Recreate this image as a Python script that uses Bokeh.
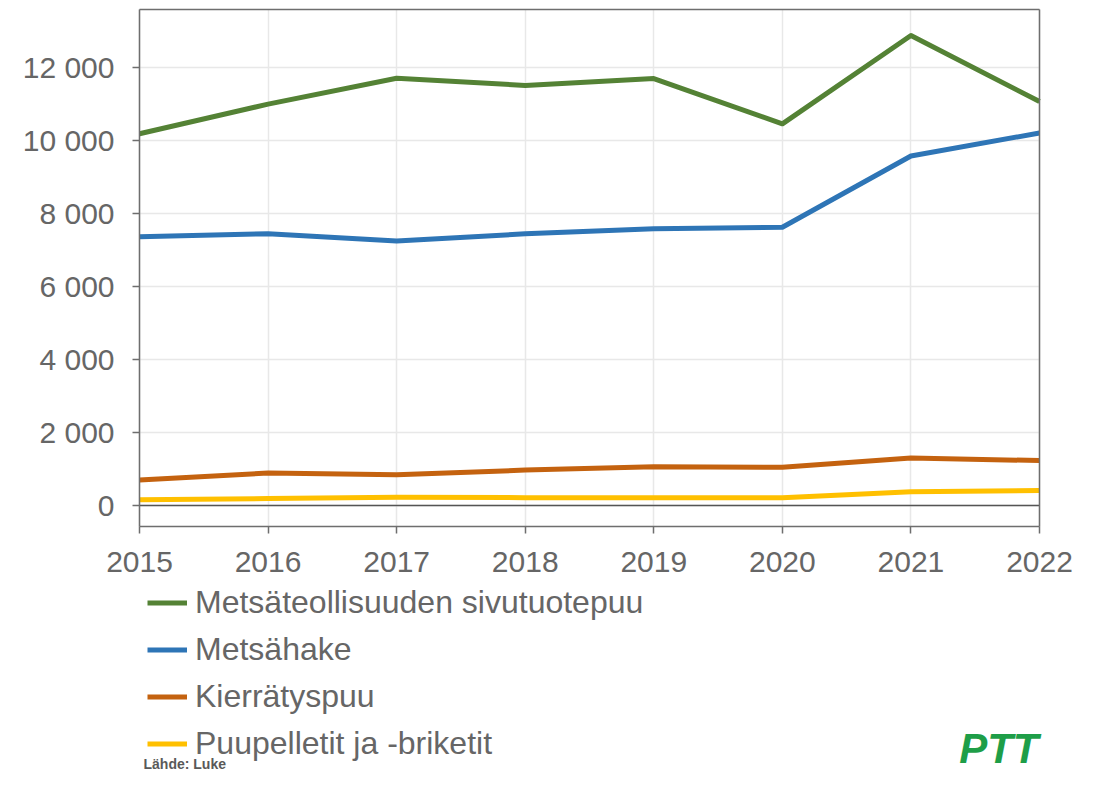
from bokeh.plotting import figure
from bokeh.models import (Range1d, FixedTicker, Grid, Legend, LegendItem, Label, LinearAxis)
from bokeh.embed import file_html
from bokeh.resources import INLINE

years = [2015, 2016, 2017, 2018, 2019, 2020, 2021, 2022]
metsateollisuus = [10180, 10990, 11700, 11500, 11690, 10450, 12870, 11060]
metsahake = [7360, 7440, 7240, 7440, 7580, 7620, 9570, 10200]
kierratyspuu = [700, 890, 840, 970, 1060, 1045, 1300, 1230]
puupelletit = [155, 190, 225, 215, 210, 210, 380, 410]

series_names = ["Metsäteollisuuden sivutuotepuu", "Metsähake", "Kierrätyspuu",
                "Puupelletit ja -briketit"]
series_colors = ["#548235", "#2e75b6", "#c4620f", "#ffc000"]

y_ticks = [0, 2000, 4000, 6000, 8000, 10000, 12000]
y_tick_labels = ["0", "2 000", "4 000", "6 000", "8 000", "10 000", "12 000"]

source_text = "Lähde: Luke"
logo_text = "PTT"

FONT = "Liberation Sans"
GRAY = "#666666"
AX = "#6e6e6e"
GRID = "#e8e8e8"
W, H = 1083, 772

# chart box (value axes) inside a larger frame that also holds labels and legend
X_MIN, X_MAX = 2015, 2022
Y_BOX_MIN, Y_MAX = -575, 13580
X_FRAME = (2013.9967, 2022.3033)
Y_FRAME = (-7310, 13772)

p = figure(width=W, height=H, output_backend="svg", toolbar_location=None,
           x_range=Range1d(*X_FRAME), y_range=Range1d(*Y_FRAME),
           min_border_left=10, min_border_right=5, min_border_top=2,
           min_border_bottom=0)

p.outline_line_color = None
p.background_fill_color = "white"
p.border_fill_color = "white"

has_cb = "cross_bounds" in p.xgrid[0].properties()

xg, yg = p.xgrid[0], p.ygrid[0]
xg.ticker = FixedTicker(ticks=years)
yg.ticker = FixedTicker(ticks=y_ticks)
if has_cb:
    xg.cross_bounds = (Y_BOX_MIN, Y_MAX)
    yg.cross_bounds = (X_MIN, X_MAX)
    for g in (xg, yg):
        g.grid_line_color = GRID
        g.grid_line_width = 1.5
    p.add_layout(Grid(dimension=1, ticker=FixedTicker(ticks=[0]), cross_bounds=(X_MIN, X_MAX),
                      grid_line_color="#555555", grid_line_width=1.5))
else:
    xg.visible = False
    yg.visible = False
    p.segment(x0=years, x1=years, y0=Y_BOX_MIN, y1=Y_MAX, line_color=GRID, line_width=1.5)
    p.segment(x0=X_MIN, x1=X_MAX, y0=y_ticks, y1=y_ticks, line_color=GRID, line_width=1.5)
    p.segment(x0=X_MIN, x1=X_MAX, y0=0, y1=0, line_color="#555555", line_width=1.5)

p.xaxis.ticker = FixedTicker(ticks=years)
p.yaxis.ticker = FixedTicker(ticks=y_ticks)
p.yaxis.major_label_overrides = {t: l for t, l in zip(y_ticks, y_tick_labels)}
p.xaxis.major_label_overrides = {y: str(y) for y in years}
p.xaxis.fixed_location = Y_BOX_MIN
p.yaxis.fixed_location = X_MIN
p.xaxis.bounds = (X_MIN, X_MAX)
p.yaxis.bounds = (Y_BOX_MIN, Y_MAX)

for ax in (p.xaxis[0], p.yaxis[0]):
    ax.axis_line_color = AX
    ax.axis_line_width = 1.5
    ax.major_tick_line_color = AX
    ax.major_tick_line_width = 1.5
    ax.major_tick_in = 0
    ax.major_tick_out = 7
    ax.minor_tick_line_color = None
    ax.major_label_text_font = FONT
    ax.major_label_text_font_size = "30px"
    ax.major_label_text_color = GRAY
p.yaxis.major_label_standoff = 18
p.xaxis.major_label_standoff = 18

# top and right edges of the chart box
for loc, bnds, fl in (("above", (X_MIN, X_MAX), Y_MAX), ("right", (Y_BOX_MIN, Y_MAX), X_MAX)):
    a = LinearAxis(ticker=FixedTicker(ticks=[]), bounds=bnds, fixed_location=fl,
                   axis_line_color=AX, axis_line_width=1.5, major_tick_line_color=None,
                   minor_tick_line_color=None, major_label_text_font_size="0px")
    p.add_layout(a, loc)

items = []
for vals, name, col in zip([metsateollisuus, metsahake, kierratyspuu, puupelletit],
                           series_names, series_colors):
    r = p.line(years, vals, line_color=col, line_width=5, line_join="round")
    items.append(LegendItem(label=name, renderers=[r]))

legend = Legend(items=items, location=(137, 10), orientation="vertical",
                label_text_font=FONT, label_text_font_size="32px",
                label_text_color=GRAY, glyph_width=40, glyph_height=35,
                label_height=35, spacing=10, padding=0, margin=0,
                label_standoff=8, border_line_alpha=0, background_fill_alpha=0)
p.add_layout(legend, "center")

p.add_layout(Label(x=133, y=1, x_units="screen", y_units="screen", text=source_text,
                   text_font=FONT, text_font_size="14px", text_font_style="bold",
                   text_color="#595959", text_baseline="bottom"))
p.add_layout(Label(x=1028, y=1, x_units="screen", y_units="screen", text=logo_text,
                   text_font=FONT, text_font_size="42px", text_font_style="bold italic",
                   text_color="#1e9e48", text_align="right", text_baseline="bottom"))

open("out.html", "w").write(file_html(p, INLINE))
